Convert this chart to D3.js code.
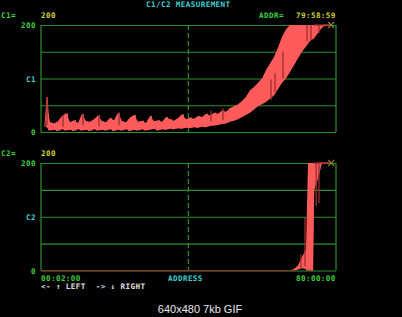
<!DOCTYPE html>
<html>
<head>
<meta charset="utf-8">
<script src="https://cdn.jsdelivr.net/npm/d3@7"></script>
<style>
  html, body { margin: 0; padding: 0; background: #000; }
  svg { display: block; }
  .mono { font-family: "DejaVu Sans Mono", monospace; font-weight: bold; font-size: 7.6px; letter-spacing: 0.4px; white-space: pre; }
</style>
</head>
<body>
<script>
// C1 trace, one min/max pair per address bin
var c1Low  = [10, 3, 4, 2, 5, 3, 4, 2, 5, 3, 4, 2, 5, 3, 4, 3, 5, 2, 4, 3,
              5, 2, 4, 3, 5, 3, 4, 6, 3, 5, 4, 6, 5, 7, 6, 8, 7, 9, 8, 10,
              9, 11, 12, 13, 15, 16, 19, 21, 24, 28, 32, 36, 42, 48, 52, 56, 62, 68, 80, 92,
              100, 112, 125, 138, 150, 160, 170, 175, 185, 195, 200, 200];
var c1High = [65, 18, 16, 20, 30, 35, 18, 22, 17, 34, 20, 19, 24, 31, 20, 18, 26, 22, 36, 20,
              18, 27, 32, 19, 21, 17, 30, 20, 22, 19, 28, 24, 21, 26, 33, 24, 27, 25, 30, 28,
              34, 31, 36, 34, 40, 38, 45, 48, 52, 58, 66, 78, 84, 92, 100, 116, 128, 140, 158, 178,
              192, 200, 200, 200, 200, 200, 200, 200, 200, 200, 200, 200];

// darker spikes on C1 (bin, from, to)
var c1SpikeBin  = [0, 4, 9, 13, 18, 41, 44, 56, 57, 59, 65, 66, 68];
var c1SpikeFrom = [12, 10, 12, 10, 12, 20, 22, 60, 75, 100, 170, 172, 185];
var c1SpikeTo   = [65, 32, 33, 30, 35, 40, 44, 98, 110, 150, 200, 200, 200];

// C2 trace: flat at zero, then the jump near the end
var c2Bin  = [0, 61, 62, 63, 64, 65, 65.5, 66.8, 67, 68, 69, 71];
var c2Low  = [0, 0, 0, 2, 4, 3, 0, 0, 150, 170, 200, 200];
var c2High = [0, 0, 3, 10, 25, 40, 200, 200, 200, 200, 200, 200];

var c2SpikeBin  = [63.5, 64.5, 67.3, 68];
var c2SpikeFrom = [3, 8, 120, 125];
var c2SpikeTo   = [30, 98, 200, 200];

var gridTicks = [0, 50, 100, 150, 200];
var cursorBin = 35.6;

var width = 402, height = 317;
var green = "#2f8f2f", textGreen = "#3fcf3f", yellow = "#cfcf3a", cyan = "#3fcfcf",
    red = "#ff5b5b", darkRed = "#9a3030";

var x = d3.scaleLinear().domain([-1.25, 72.5]).range([41, 336]);
var y1 = d3.scaleLinear().domain([0, 200]).range([132, 25]);
var y2 = d3.scaleLinear().domain([0, 200]).range([270.5, 163]);

var svg = d3.select("body").append("svg")
    .attr("width", width)
    .attr("height", height);

svg.append("rect").attr("width", width).attr("height", height).attr("fill", "#000");

function txt(s, tx, ty, color, anchor) {
    svg.append("text")
        .attr("class", "mono")
        .attr("x", tx).attr("y", ty)
        .attr("fill", color)
        .attr("text-anchor", anchor || "start")
        .text(s);
}

function panel(y, low, high, bins, spikeBin, spikeFrom, spikeTo, name) {
    // grid lines
    svg.append("g")
        .attr("transform", "translate(" + x.range()[0] + ",0)")
        .call(d3.axisLeft(y).tickValues(gridTicks).tickSize(-(x.range()[1] - x.range()[0])).tickFormat(""))
        .call(function(g) {
            g.select(".domain").remove();
            g.selectAll(".tick line").attr("stroke", green).attr("stroke-width", 1.2);
        });

    // borders
    svg.append("line")
        .attr("x1", x.range()[0]).attr("x2", x.range()[0])
        .attr("y1", y(200)).attr("y2", y(0))
        .attr("stroke", green).attr("stroke-width", 1.2);
    svg.append("line")
        .attr("x1", x.range()[1]).attr("x2", x.range()[1])
        .attr("y1", y(200)).attr("y2", y(0))
        .attr("stroke", green).attr("stroke-width", 1.2);

    // cursor
    svg.append("line")
        .attr("x1", x(cursorBin)).attr("x2", x(cursorBin))
        .attr("y1", y(200)).attr("y2", y(0))
        .attr("stroke", green).attr("stroke-width", 1.2)
        .attr("stroke-dasharray", "5,3");

    // y labels
    svg.append("g")
        .attr("transform", "translate(36,0)")
        .call(d3.axisLeft(y).tickValues([0, 100, 200]).tickSize(0)
            .tickFormat(function(d) { return d === 100 ? name : d; }))
        .call(function(g) {
            g.select(".domain").remove();
            g.selectAll(".tick text")
                .attr("class", "mono")
                .attr("x", 0)
                .attr("dy", "0.35em")
                .attr("fill", function(d) { return d === 100 ? cyan : textGreen; });
        });

    var pts = bins.map(function(b, i) { return { b: b, lo: low[i], hi: high[i] }; });

    // band
    svg.append("path")
        .datum(pts)
        .attr("fill", red)
        .attr("d", d3.area()
            .x(function(d) { return x(d.b); })
            .y0(function(d) { return y(d.lo); })
            .y1(function(d) { return y(d.hi); }));

    // jagged trace
    var zig = [];
    pts.forEach(function(d, i) {
        zig.push([d.b - 0.3, d.lo]);
        zig.push([d.b + 0.3, d.hi]);
    });
    svg.append("path")
        .datum(zig)
        .attr("fill", "none")
        .attr("stroke", red)
        .attr("stroke-width", 1)
        .attr("d", d3.line()
            .x(function(d) { return x(d[0]); })
            .y(function(d) { return y(d[1]); }));

    // darker spikes
    svg.append("g")
        .selectAll("line")
        .data(spikeBin)
        .enter()
        .append("line")
        .attr("x1", function(d) { return x(d) + 1; })
        .attr("x2", function(d) { return x(d) + 1; })
        .attr("y1", function(d, i) { return y(spikeFrom[i]); })
        .attr("y2", function(d, i) { return y(spikeTo[i]); })
        .attr("stroke", darkRed)
        .attr("stroke-width", 1.3);

    // pegged segment along the top
    svg.append("line")
        .attr("x1", x(67)).attr("x2", x(71))
        .attr("y1", y(200)).attr("y2", y(200))
        .attr("stroke", darkRed).attr("stroke-width", 1.2);

    // end marker
    var mx = x(71.3), my = y(200);
    svg.append("path")
        .attr("d", "M" + (mx - 3) + "," + (my - 3) + "L" + (mx + 3) + "," + (my + 3) +
                   "M" + (mx + 3) + "," + (my - 3) + "L" + (mx - 3) + "," + (my + 3))
        .attr("stroke", "#8c7a34").attr("stroke-width", 1.2);
}

panel(y1, c1Low, c1High, d3.range(c1Low.length), c1SpikeBin, c1SpikeFrom, c1SpikeTo, "C1");
panel(y2, c2Low, c2High, c2Bin, c2SpikeBin, c2SpikeFrom, c2SpikeTo, "C2");

// zero line of C2 over the bottom border
svg.append("line")
    .attr("x1", x.range()[0]).attr("x2", x(62))
    .attr("y1", y2(0)).attr("y2", y2(0))
    .attr("stroke", darkRed).attr("stroke-width", 1.2);

// header and footer texts
txt("C1/C2 MEASUREMENT", 146, 6.5, cyan);
txt("C1=", 1, 18, textGreen);
txt("200", 41, 18, yellow);
txt("ADDR=", 259, 18, textGreen);
txt("79:58:59", 296, 18, yellow);
txt("C2=", 1, 155.5, textGreen);
txt("200", 41, 155.5, yellow);
txt("00:02:00", 41, 281, textGreen);
txt("ADDRESS", 168, 281, cyan);
txt("80:00:00", 296, 281, textGreen);
txt("<- \u2191 LEFT  -> \u2193 RIGHT", 41, 288.5, "#e0e0e0");

svg.append("text")
    .attr("x", 200).attr("y", 313)
    .attr("text-anchor", "middle")
    .attr("fill", "#e8e8e8")
    .attr("font-family", "Liberation Sans, Arial, sans-serif")
    .attr("font-size", "11px")
    .text("640x480 7kb GIF");
</script>
</body>
</html>
